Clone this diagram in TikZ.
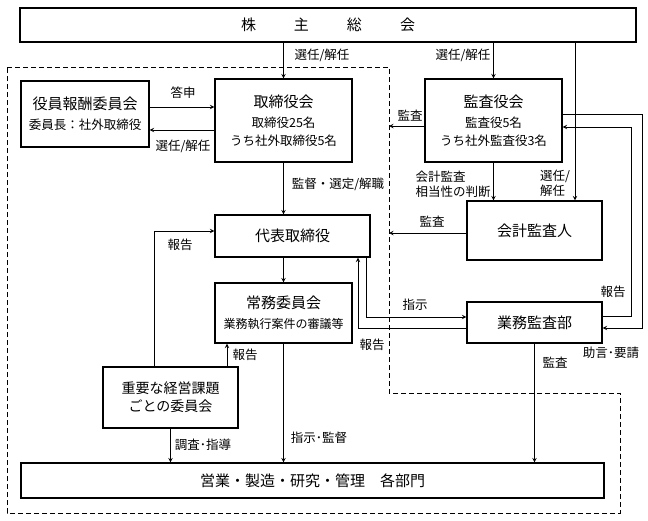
\documentclass[tikz,border=0pt]{standalone}
\usepackage{fontspec}
\setmainfont{Noto Sans CJK JP}
\usepackage{tikz}

\newcommand{\chico}{\fontsize{12.5}{15}\selectfont}

\begin{document}
\begin{tikzpicture}[x=1pt, y=-1pt, >=stealth, line width=1pt,
	caja/.style={draw, rectangle, line width=1.2pt, align=center, inner sep=2pt, font=\fontsize{15}{18}\selectfont},
	etiqueta/.style={inner sep=0pt, font=\chico}]
		
		\useasboundingbox (0,0) rectangle (648,520);
		
		% Zona discontinua
		\draw [dash pattern=on 5pt off 3pt] (7,67) -- (389,67) -- (389,393) -- (620,393) -- (620,513) -- (7,513) -- cycle;
		
		% Cajas
		\node [caja, minimum width=616, minimum height=34] (kabunushi) at (328,25) {株\hspace{38pt}主\hspace{38pt}総\hspace{38pt}会};
		\node [caja, minimum width=128, minimum height=66] (hoshu) at (85,114) {役員報酬委員会\\[2pt]{\chico 委員長：社外取締役}};
		\node [caja, minimum width=137, minimum height=83] (torishimariyaku) at (283.5,120.5) {取締役会\\[2pt]{\chico 取締役25名}\\{\chico うち社外取締役5名}};
		\node [caja, minimum width=137, minimum height=83] (kansayaku) at (493.5,120.5) {監査役会\\[2pt]{\chico 監査役5名}\\{\chico うち社外監査役3名}};
		\node [caja, minimum width=155, minimum height=42] (daihyo) at (292.5,236) {代表取締役};
		\node [caja, minimum width=135, minimum height=59] (kaikei) at (534.5,230.5) {会計監査人};
		\node [caja, minimum width=137, minimum height=60] (jomu) at (283.5,313) {常務委員会\\[2pt]{\fontsize{12}{14}\selectfont 業務執行案件の審議等}};
		\node [caja, minimum width=135, minimum height=41] (gyomukansa) at (534.5,322.5) {業務監査部};
		\node [caja, minimum width=135, minimum height=61, font=\fontsize{14}{18}\selectfont] (juyo) at (170.5,397.5) {重要な経営課題\\ごとの委員会};
		\node [caja, minimum width=583, minimum height=35] (eigyo) at (312.5,480.5) {営業・製造・研究・管理　各部門};
		
		% Puntos de quiebre
		\coordinate (c-kaikei) at (575,0);
		\coordinate (c-toshin) at (0,107);
		\coordinate (c-senin) at (0,130);
		\coordinate (c-kansa1) at (389,126);
		\coordinate (c-kansa2) at (389,233);
		\coordinate (c-hokoku1) at (154,231);
		\coordinate (c-hokoku2) at (227,0);
		\coordinate (c-shiji) at (366,317);
		\coordinate (c-hokoku3) at (358,328);
		\coordinate (c-hokoku4a) at (631,316);
		\coordinate (c-hokoku4b) at (631,127);
		\coordinate (c-jogen-a) at (642,114);
		\coordinate (c-jogen-b) at (642,328);
		
		% Conexiones desde el 株主総会
		\draw [->] (kabunushi.south -| torishimariyaku) -- (torishimariyaku);
		\draw [->] (kabunushi.south -| kansayaku) -- (kansayaku);
		\draw [->] (kabunushi.south -| c-kaikei) -- (kaikei.north -| c-kaikei);
		
		% Conexiones del 取締役会
		\draw [->] (hoshu.east |- c-toshin) -- (torishimariyaku.west |- c-toshin);
		\draw [->] (torishimariyaku.west |- c-senin) -- (hoshu.east |- c-senin);
		\draw [->] (torishimariyaku) -- (daihyo.north -| torishimariyaku);
		
		% Conexiones del 監査役会
		\draw [->] (kansayaku.west |- c-kansa1) -- (c-kansa1);
		\draw [->] (kansayaku) -- (kaikei.north -| kansayaku);
		\draw [->] (kaikei.west |- c-kansa2) -- (c-kansa2);
		\draw [->] (gyomukansa.east |- c-hokoku4a) -- (c-hokoku4a) -- (c-hokoku4b) -- (kansayaku.east |- c-hokoku4b);
		\draw [->] (kansayaku.east |- c-jogen-a) -- (c-jogen-a) -- (c-jogen-b) -- (gyomukansa.east |- c-jogen-b);
		
		% Conexiones del 代表取締役
		\draw [->] (juyo.north -| c-hokoku1) -- (c-hokoku1) -- (daihyo.west |- c-hokoku1);
		\draw [->] (juyo.north -| c-hokoku2) -- (jomu.south -| c-hokoku2);
		\draw [->] (daihyo.south -| jomu) -- (jomu);
		\draw [->] (daihyo.south -| c-shiji) -- (c-shiji) -- (gyomukansa.west |- c-shiji);
		\draw [->] (gyomukansa.west |- c-hokoku3) -- (c-hokoku3) -- (daihyo.south -| c-hokoku3);
		
		% Conexiones hacia los 各部門
		\draw [->] (jomu) -- (eigyo.north -| jomu);
		\draw [->] (juyo) -- (eigyo.north -| juyo);
		\draw [->] (gyomukansa) -- (eigyo.north -| gyomukansa);
		
		% Etiquetas
		\node [etiqueta] (l-senin1) at (322,55) {選任/解任};
		\node [etiqueta] (l-senin2) at (463,55) {選任/解任};
		\node [etiqueta, align=left] (l-senin3) at (555,183) {選任/\\解任};
		\node [etiqueta] (l-toshin) at (183,93) {答申};
		\node [etiqueta] (l-senin4) at (183,146) {選任/解任};
		\node [etiqueta] (l-kantoku) at (338,184) {監督・選定/解職};
		\node [etiqueta] (l-kansa1) at (410,116) {監査};
		\node [etiqueta, align=left, anchor=east] (l-kaikeikansa) at (491,184) {会計監査\\相当性の判断};
		\node [etiqueta] (l-kansa2) at (432,222) {監査};
		\node [etiqueta] (l-hokoku1) at (180,245) {報告};
		\node [etiqueta] (l-hokoku2) at (245,355) {報告};
		\node [etiqueta] (l-shiji) at (415,305) {指示};
		\node [etiqueta] (l-hokoku3) at (372,345) {報告};
		\node [etiqueta] (l-hokoku4) at (613,292) {報告};
		\node [etiqueta] (l-jogen) at (611,353) {助言･要請};
		\node [etiqueta] (l-kansa3) at (555,363) {監査};
		\node [etiqueta] (l-chosa) at (203,445) {調査･指導};
		\node [etiqueta] (l-shiji2) at (319,438) {指示･監督};
		
	\end{tikzpicture}
\end{document}
